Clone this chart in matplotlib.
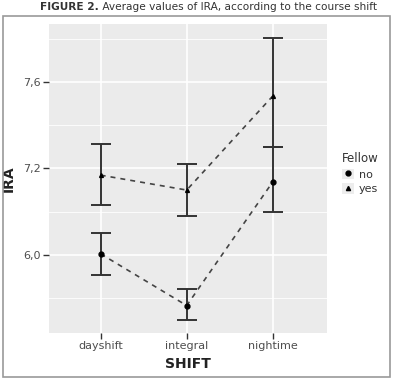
import numpy as np
import matplotlib.pyplot as plt
from matplotlib.patches import Rectangle
from matplotlib.lines import Line2D

plt.rcParams['font.family'] = ['Liberation Sans Narrow', 'DejaVu Sans']

# data
shifts = ["dayshift", "integral", "nightime"]
no_mean = [6.805, 6.566, 7.138]
no_low = [6.709, 6.499, 6.998]
no_high = [6.900, 6.641, 7.297]
yes_mean = [7.169, 7.100, 7.535]
yes_low = [7.029, 6.979, 7.297]
yes_high = [7.311, 7.222, 7.802]

y_ticks = [6.8, 7.2, 7.6]
y_ticklabels = ["6,0", "7,2", "7,6"]
y_minor = [6.6, 7.0, 7.4, 7.8]

fig = plt.figure(figsize=(3.93, 3.80), dpi=100)
ax = fig.add_axes([49 / 393, 47 / 380, 278 / 393, 309 / 380])
ax.set_facecolor('#EBEBEB')

x = np.arange(1, len(shifts) + 1)
dark = '#333333'

# gridlines
for v in y_minor:
    ax.axhline(v, color='white', lw=0.6, zorder=0)
for v in y_ticks:
    ax.axhline(v, color='white', lw=1.2, zorder=0)
for xi in x:
    ax.axvline(xi, color='white', lw=1.2, zorder=0)

for mean, lo, hi, mk, ms in [(no_mean, no_low, no_high, 'o', 3.5),
                             (yes_mean, yes_low, yes_high, '^', 2.8)]:
    mean = np.array(mean)
    err = [mean - np.array(lo), np.array(hi) - mean]
    ax.errorbar(x, mean, yerr=err, fmt='none', ecolor=dark, elinewidth=1.4,
                capsize=7.5, capthick=1.4, zorder=2)
    ax.plot(x, mean, ls=(0, (3, 3)), color='#444444', lw=1.2, zorder=3)
    ax.plot(x, mean, ls='none', marker=mk, ms=ms, color='black', zorder=4)

ax.set_xlim(0.4, 3.63)
ax.set_ylim(6.439, 7.868)
ax.set_xticks(x)
ax.set_xticklabels(shifts)
ax.set_yticks(y_ticks)
ax.set_yticklabels(y_ticklabels)
ax.tick_params(length=4, width=1, color='#333333', labelcolor='#4D4D4D',
               labelsize=8, pad=2)
for s in ax.spines.values():
    s.set_visible(False)

ax.set_xlabel("SHIFT", fontsize=10, fontweight='bold', color='#222222', labelpad=4)
ax.set_ylabel("IRA", fontsize=10, fontweight='bold', color='#222222', labelpad=5)

# legend
key_bg = Rectangle((0, 0), 1, 1, facecolor='#EDEDED', edgecolor='none')
h_no = (key_bg, Line2D([], [], ls='none', marker='o', ms=3.5, color='black'))
h_yes = (key_bg, Line2D([], [], ls='none', marker='^', ms=3, color='black'))
leg = fig.legend([h_no, h_yes], ["no", "yes"], title="Fellow",
                 loc='upper left', bbox_to_anchor=(340 / 393, 1 - 150 / 380),
                 frameon=False, fontsize=8, title_fontsize=8.5,
                 handlelength=1.1, handleheight=1.1, handletextpad=0.4,
                 labelspacing=0.3, borderpad=0.2, borderaxespad=0)
leg._legend_box.align = 'left'
for t in leg.get_texts():
    t.set_color('#333333')
leg.get_title().set_color('#333333')

# outer frame
fig.patches.append(Rectangle((3 / 393, 1 - 377 / 380), 387 / 393, 361 / 380,
                             transform=fig.transFigure, fill=False,
                             edgecolor='#9A9A9A', lw=1.2))

# title
t1 = fig.text(40 / 393, 1 - 10 / 380, "FIGURE 2.", fontsize=7.6, fontweight='bold',
              color='#333333', va='baseline', ha='left')
ax.annotate(" Average values of IRA, according to the course shift",
            xy=(1, 0), xycoords=t1, va='bottom', ha='left',
            fontsize=7.6, color='#333333', annotation_clip=False)

fig.savefig("out.png", dpi=100)
